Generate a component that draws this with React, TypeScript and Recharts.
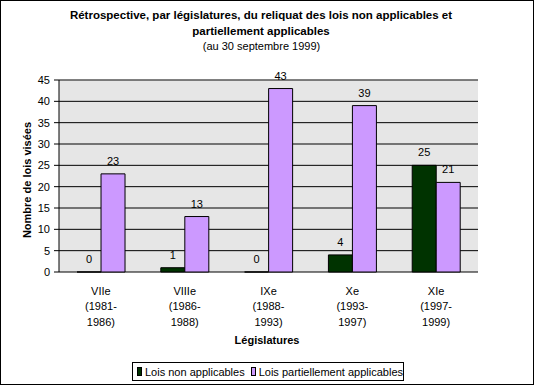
import { BarChart, Bar, XAxis, YAxis, CartesianGrid, LabelList, ReferenceLine } from "recharts"

const legislatures = ["VIIe", "VIIIe", "IXe", "Xe", "XIe"]
const periodStart = ["(1981-", "(1986-", "(1988-", "(1993-", "(1997-"]
const periodEnd = ["1986)", "1988)", "1993)", "1997)", "1999)"]
const loisNonApplicables = [0, 1, 0, 4, 25]
const loisPartiellement = [23, 13, 43, 39, 21]
const yTicks = [0, 5, 10, 15, 20, 25, 30, 35, 40, 45]
const edgeTicks = [0, 1, 2, 3, 4, 5]

const data = legislatures.map((name, i) => ({
  name,
  start: periodStart[i],
  end: periodEnd[i],
  non: loisNonApplicables[i],
  partiel: loisPartiellement[i],
}))

const FONT = "'Liberation Sans', Arial, sans-serif"
const DARK = "#003300"
const PURPLE = "#cc99ff"

function LegTick(props: any) {
  const { x, y, payload, index } = props
  const row = data[index] ?? data.find((d) => d.name === payload.value)
  return (
    <text x={x} y={y} textAnchor="middle" fontSize={11} fontFamily={FONT} fill="#000">
      <tspan x={x} dy={20.5}>{payload.value}</tspan>
      <tspan x={x} dy={15.6}>{row?.start}</tspan>
      <tspan x={x} dy={15.6}>{row?.end}</tspan>
    </text>
  )
}

export default function App() {
  return (
    <div style={{ position: "absolute", left: 0, top: 0, width: 534, height: 385, background: "#fff", fontFamily: FONT }}>
      <BarChart
        width={534}
        height={385}
        data={data}
        margin={{ top: 80, right: 56, bottom: 0, left: 0 }}
        barCategoryGap="21.5%"
        barGap={0}
      >
        <XAxis
          xAxisId="edges"
          type="number"
          domain={[0, 5]}
          ticks={edgeTicks}
          tick={false}
          tickSize={5}
          height={0}
          stroke="#000"
        />
        <XAxis
          xAxisId="cat"
          dataKey="name"
          axisLine={false}
          tickLine={false}
          tickSize={0}
          height={113}
          interval={0}
          tick={<LegTick />}
        />
        <YAxis
          domain={[0, 45]}
          ticks={yTicks}
          width={59}
          tickSize={5}
          tickMargin={4}
          stroke="#000"
          tick={{ fill: "#000", fontSize: 11, fontFamily: FONT }}
          interval={0}
        />
        <CartesianGrid xAxisId="edges" vertical={false} stroke="#000" fill="#e6e6e6" fillOpacity={1} />
        <ReferenceLine xAxisId="edges" y={45} stroke="#808080" />
        <ReferenceLine xAxisId="edges" x={5} stroke="#808080" />
        <Bar xAxisId="cat" dataKey="non" fill={DARK} stroke="#000" minPointSize={0.01} isAnimationActive={false}>
          <LabelList dataKey="non" position="top" offset={9} fill="#000" fontSize={11} fontFamily={FONT} />
        </Bar>
        <Bar xAxisId="cat" dataKey="partiel" fill={PURPLE} stroke="#000" isAnimationActive={false}>
          <LabelList dataKey="partiel" position="top" offset={9} fill="#000" fontSize={11} fontFamily={FONT} />
        </Bar>
      </BarChart>

      <div style={{ position: "absolute", left: 0, width: 522, top: 8, textAlign: "center", fontSize: 11.5, fontWeight: "bold", lineHeight: "15.6px" }}>
        Rétrospective, par législatures, du reliquat des lois non applicables et
        <br />
        partiellement applicables
      </div>
      <div style={{ position: "absolute", left: 0, width: 523, top: 39, textAlign: "center", fontSize: 11, lineHeight: "14px" }}>
        (au 30 septembre 1999)
      </div>
      <div
        style={{
          position: "absolute",
          left: 27,
          top: 180,
          transform: "translate(-50%, -50%) rotate(-90deg)",
          whiteSpace: "nowrap",
          fontSize: 11,
          fontWeight: "bold",
        }}
      >
        Nombre de lois visées
      </div>
      <div style={{ position: "absolute", left: 0, width: 534, top: 333, textAlign: "center", fontSize: 11, fontWeight: "bold", lineHeight: "14px" }}>
        Législatures
      </div>
      <div
        style={{
          position: "absolute",
          left: 132,
          top: 362,
          width: 272,
          height: 19,
          boxSizing: "border-box",
          border: "1px solid #000",
          background: "#fff",
          display: "flex",
          alignItems: "center",
          fontSize: 11,
          whiteSpace: "nowrap",
        }}
      >
        <span style={{ display: "inline-block", width: 7, height: 7, background: DARK, border: "1px solid #000", marginLeft: 4, marginRight: 3 }} />
        <span>Lois non applicables</span>
        <span style={{ display: "inline-block", width: 7, height: 7, background: PURPLE, border: "1px solid #000", marginLeft: 6, marginRight: 3 }} />
        <span>Lois partiellement applicables</span>
      </div>
      <div style={{ position: "absolute", left: 0, top: 0, width: 534, height: 385, boxSizing: "border-box", border: "1px solid #000", pointerEvents: "none" }} />
    </div>
  )
}
